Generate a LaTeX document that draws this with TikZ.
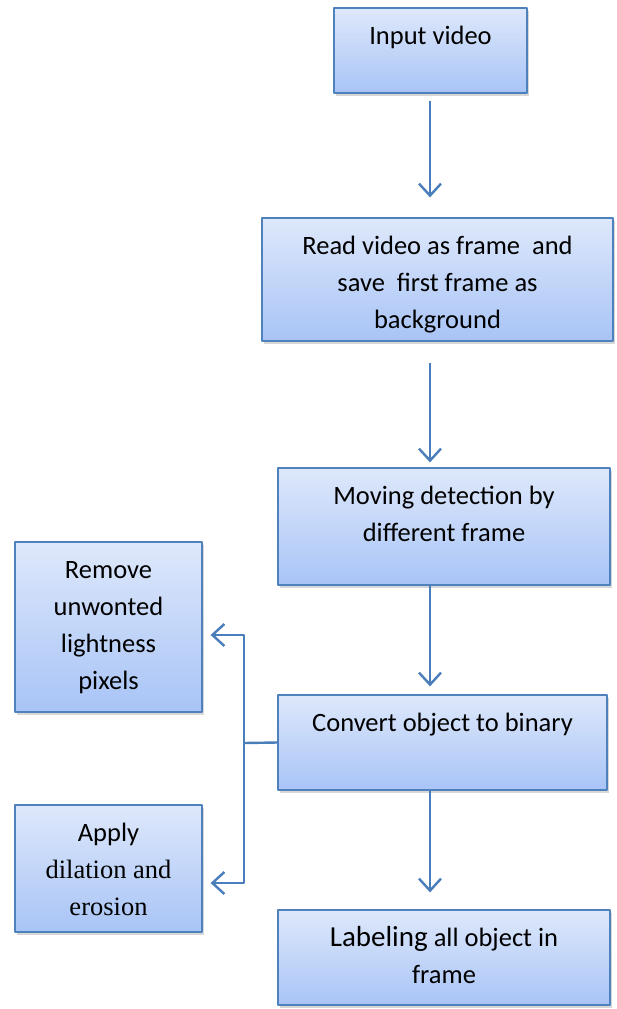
\documentclass[tikz,border=0pt]{standalone}
\usepackage{fontspec}
\setmainfont{Carlito}
\newfontfamily\timesfont{Liberation Serif}
\usetikzlibrary{arrows.meta,shadows}
\definecolor{boxline}{RGB}{79,129,189}
\definecolor{boxtop}{RGB}{222,232,251}
\definecolor{boxbot}{RGB}{168,196,246}
\definecolor{flowline}{RGB}{74,126,187}
\newcommand{\stagetext}[3]{\parbox[c][#2][t]{#1}{\centering\rule{0pt}{36pt}#3}}

\begin{document}
\begin{tikzpicture}[x=1pt, y=-1pt, font=\fontsize{26.5}{37}\selectfont, line join=round,
	stage/.style={draw=boxline, line width=1.2pt, top color=boxtop, bottom color=boxbot, inner sep=0pt,
		drop shadow={shadow xshift=1.5pt, shadow yshift=-2.5pt, opacity=.35, fill=black!45}},
	flow/.style={draw=flowline, line width=2.4pt, -{Straight Barb[length=12pt,width=22pt]}}]
	\useasboundingbox (0,0) rectangle (617,1009);
	% main column
	\node[stage] (input) at (430.5,50.5) {\stagetext{193pt}{85pt}{Input video}};
	\node[stage] (read) at (437.5,279.5) {\stagetext{351pt}{123pt}{Read video as frame~ and\\save~ first frame as\\background}};
	\node[stage] (moving) at (444,526.5) {\stagetext{332pt}{117pt}{Moving detection by\\different frame}};
	\node[stage] (convert) at (442.5,742.5) {\stagetext{329pt}{95pt}{Convert object to binary}};
	\node[stage] (label) at (444,957.5) {\stagetext{332pt}{95pt}{{\fontsize{29}{37}\selectfont Labeling} all object in\\frame}};
	% side boxes
	\node[stage] (remove) at (108.5,627) {\stagetext{187pt}{170pt}{Remove\\unwonted\\lightness\\pixels}};
	\node[stage] (apply) at (108.5,868.5) {\stagetext{187pt}{127pt}{Apply\\\timesfont dilation and\\erosion}};
	% connectors
	\coordinate (spine) at (430,0);
	\coordinate (split) at (244,743);
	\draw[flow, shorten <=7pt, shorten >=20pt] (spine |- input.south) -- (spine |- read.north);
	\draw[flow, shorten <=21pt, shorten >=5pt] (spine |- read.south) -- (spine |- moving.north);
	\draw[flow, shorten >=8pt] (spine |- moving.south) -- (spine |- convert.north);
	\draw[flow, shorten >=17pt] (spine |- convert.south) -- (spine |- label.north);
	\draw[flowline, line width=2.4pt] (convert.west) -- (split);
	\draw[flow, shorten >=8pt] (split) |- ([yshift=-8pt]remove.east);
	\draw[flow, shorten >=8pt] (split) |- ([yshift=-14.5pt]apply.east);
\end{tikzpicture}
\end{document}
